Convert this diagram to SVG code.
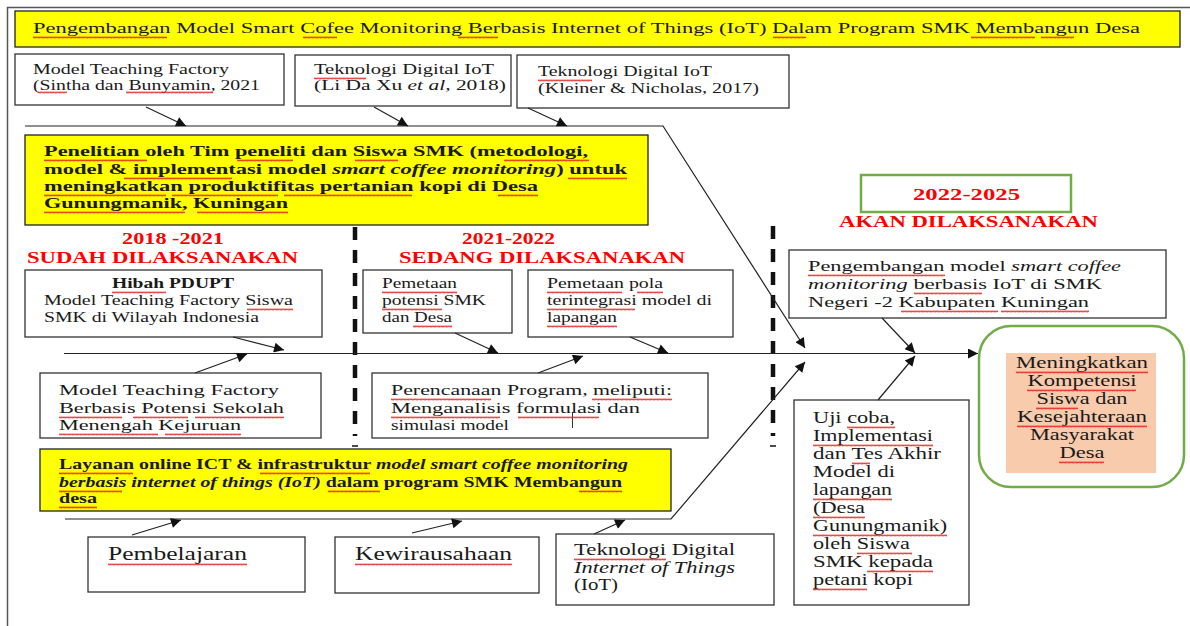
<svg xmlns="http://www.w3.org/2000/svg" width="1190" height="626" viewBox="0 0 1190 626">
  <defs>
    <style>
      .bx{fill:#fff;stroke:#333;stroke-width:1.3}
      .yb{fill:#ff0;stroke:#222;stroke-width:1.3}
      .gb{fill:#fff;stroke:#70ad47;stroke-width:2.5}
      .t{font-family:"Liberation Serif","Times New Roman",serif;fill:#1a1a1a}
      .b{font-weight:bold}
      .i{font-style:italic}
      .r{font-family:"Liberation Serif","Times New Roman",serif;fill:#f00;font-weight:bold;font-size:17px}
      .ln{stroke:#222;stroke-width:1.3;fill:none}
      .ar{stroke:#222;stroke-width:1.2;fill:none;marker-end:url(#ah)}
      .dash{stroke:#111;stroke-width:4.5;stroke-dasharray:13 10;fill:none}
      .sq{fill:url(#wavy)}
    </style>
    <marker id="ah" viewBox="0 0 10 10" refX="10" refY="5" markerWidth="14" markerHeight="10" markerUnits="userSpaceOnUse" orient="auto">
      <path d="M0,0 L10,5 L0,10z" fill="#111"/>
    </marker>
    <!-- red wavy underline tile -->
    <pattern id="wavy" width="4" height="3" patternUnits="userSpaceOnUse">
      <path d="M0,2.4 L1,0.6 L2,2.4 L3,0.6 L4,2.4" fill="none" stroke="#e31b1b" stroke-width="0.8"/>
    </pattern>
  </defs>

  <rect width="1190" height="626" fill="#fff"/>
  <!-- outer frame -->
  <path d="M7.5,626 V7.5 H1190" fill="none" stroke="#555" stroke-width="1.5"/>

  <!-- title banner -->
  <g id="title">
    <rect class="yb" x="15" y="11" width="1165" height="36"/>
    <text class="t" x="33" y="33" font-size="15" textLength="1107" lengthAdjust="spacingAndGlyphs">Pengembangan  Model Smart  Cofee Monitoring  Berbasis  Internet of Things  (IoT)  Dalam  Program  SMK  Membangun  Desa</text>
  </g>

  <!-- reference boxes -->
  <g id="ref-tefa">
    <rect class="bx" x="15" y="54" width="269" height="51"/>
    <text class="t" x="33" y="74" font-size="14" textLength="196" lengthAdjust="spacingAndGlyphs">Model Teaching  Factory</text>
    <text class="t" x="33" y="90" font-size="14" textLength="227" lengthAdjust="spacingAndGlyphs">(Sintha dan Bunyamin,  2021</text>
  </g>
  <g id="ref-lidaxu">
    <rect class="bx" x="295" y="55" width="216" height="51"/>
    <text class="t" x="314" y="74" font-size="14" textLength="180" lengthAdjust="spacingAndGlyphs">Teknologi  Digital IoT</text>
    <text class="t" x="314" y="90" font-size="14" textLength="192" lengthAdjust="spacingAndGlyphs">(Li Da Xu <tspan class="i">et al</tspan>, 2018)</text>
  </g>
  <g id="ref-kleiner">
    <rect class="bx" x="517" y="55" width="272" height="53"/>
    <text class="t" x="538" y="76" font-size="14" textLength="174" lengthAdjust="spacingAndGlyphs">Teknologi Digital IoT</text>
    <text class="t" x="538" y="93" font-size="14" textLength="221" lengthAdjust="spacingAndGlyphs">(Kleiner &amp; Nicholas,  2017)</text>
  </g>

  <!-- research banner -->
  <g id="research">
    <rect class="yb" x="25" y="135" width="623" height="90"/>
    <text class="t b" x="44" y="156" font-size="15" textLength="544" lengthAdjust="spacingAndGlyphs">Penelitian  oleh Tim peneliti  dan Siswa SMK (metodologi,</text>
    <text class="t b" x="44" y="174" font-size="15" textLength="583" lengthAdjust="spacingAndGlyphs">model &amp; implementasi  model <tspan class="i">smart coffee  monitoring</tspan>)  untuk</text>
    <text class="t b" x="44" y="191" font-size="15" textLength="494" lengthAdjust="spacingAndGlyphs">meningkatkan produktifitas pertanian  kopi di Desa</text>
    <text class="t b" x="44" y="208" font-size="15" textLength="244" lengthAdjust="spacingAndGlyphs">Gunungmanik, Kuningan</text>
  </g>

  <!-- phase labels -->
  <g id="phase-1">
    <text class="r" x="122" y="244" textLength="102" lengthAdjust="spacingAndGlyphs">2018 -2021</text>
    <text class="r" x="27" y="263" textLength="271" lengthAdjust="spacingAndGlyphs">SUDAH DILAKSANAKAN</text>
  </g>
  <g id="phase-2">
    <text class="r" x="462" y="244" textLength="93" lengthAdjust="spacingAndGlyphs">2021-2022</text>
    <text class="r" x="399" y="263" textLength="286" lengthAdjust="spacingAndGlyphs">SEDANG DILAKSANAKAN</text>
  </g>
  <g id="phase-3">
    <rect class="gb" x="861" y="175" width="210" height="37"/>
    <text class="r" x="913" y="200" textLength="107" lengthAdjust="spacingAndGlyphs">2022-2025</text>
    <text class="r" x="839" y="227" textLength="259" lengthAdjust="spacingAndGlyphs">AKAN DILAKSANAKAN</text>
  </g>

  <!-- upper cause boxes -->
  <g id="hibah">
    <rect class="bx" x="25" y="270" width="297" height="67"/>
    <text class="t b" x="112" y="288" font-size="15" textLength="122" lengthAdjust="spacingAndGlyphs">Hibah PDUPT</text>
    <text class="t" x="44" y="305" font-size="15" textLength="249" lengthAdjust="spacingAndGlyphs">Model Teaching  Factory Siswa</text>
    <text class="t" x="44" y="322" font-size="15" textLength="215" lengthAdjust="spacingAndGlyphs">SMK di Wilayah Indonesia</text>
  </g>
  <g id="pemetaan-potensi">
    <rect class="bx" x="363" y="270" width="149" height="63"/>
    <text class="t" x="382" y="288" font-size="14" textLength="75" lengthAdjust="spacingAndGlyphs">Pemetaan</text>
    <text class="t" x="382" y="305" font-size="14" textLength="104" lengthAdjust="spacingAndGlyphs">potensi SMK</text>
    <text class="t" x="382" y="322" font-size="14" textLength="70" lengthAdjust="spacingAndGlyphs">dan Desa</text>
  </g>
  <g id="pemetaan-pola">
    <rect class="bx" x="528" y="270" width="205" height="67"/>
    <text class="t" x="547" y="288" font-size="14" textLength="116" lengthAdjust="spacingAndGlyphs">Pemetaan  pola</text>
    <text class="t" x="547" y="305" font-size="14" textLength="165" lengthAdjust="spacingAndGlyphs">terintegrasi  model di</text>
    <text class="t" x="547" y="322" font-size="14" textLength="70" lengthAdjust="spacingAndGlyphs">lapangan</text>
  </g>
  <g id="pengembangan">
    <rect class="bx" x="789" y="250" width="377" height="68"/>
    <text class="t" x="808" y="271" font-size="15" textLength="313" lengthAdjust="spacingAndGlyphs">Pengembangan model <tspan class="i">smart coffee</tspan></text>
    <text class="t" x="808" y="289" font-size="15" textLength="294" lengthAdjust="spacingAndGlyphs"><tspan class="i">monitoring</tspan> berbasis  IoT di SMK</text>
    <text class="t" x="808" y="307" font-size="15" textLength="281" lengthAdjust="spacingAndGlyphs">Negeri -2 Kabupaten Kuningan</text>
  </g>

  <!-- lower cause boxes -->
  <g id="tefa-potensi">
    <rect class="bx" x="40" y="373" width="281" height="65"/>
    <text class="t" x="59" y="395" font-size="15" textLength="220" lengthAdjust="spacingAndGlyphs">Model Teaching  Factory</text>
    <text class="t" x="59" y="413" font-size="15" textLength="225" lengthAdjust="spacingAndGlyphs">Berbasis Potensi Sekolah</text>
    <text class="t" x="59" y="430" font-size="15" textLength="182" lengthAdjust="spacingAndGlyphs">Menengah Kejuruan</text>
  </g>
  <g id="perencanaan">
    <rect class="bx" x="372" y="373" width="336" height="65"/>
    <text class="t" x="391" y="395" font-size="14.5" textLength="281" lengthAdjust="spacingAndGlyphs">Perencanaan Program, meliputi:</text>
    <text class="t" x="391" y="413" font-size="14.5" textLength="249" lengthAdjust="spacingAndGlyphs">Menganalisis  formulasi dan</text>
    <text class="t" x="391" y="430" font-size="14.5" textLength="118" lengthAdjust="spacingAndGlyphs">simulasi  model</text>
    <line x1="572.5" y1="412" x2="572.5" y2="428" stroke="#333" stroke-width="1"/>
  </g>
  <g id="layanan">
    <rect class="yb" x="40" y="449" width="631" height="62"/>
    <text class="t b" x="59" y="469" font-size="14" textLength="569" lengthAdjust="spacingAndGlyphs">Layanan online ICT  &amp; infrastruktur  <tspan class="i">model smart  coffee monitoring</tspan></text>
    <text class="t b" x="59" y="487" font-size="14" textLength="563" lengthAdjust="spacingAndGlyphs"><tspan class="i">berbasis  internet of things  (IoT)</tspan> dalam  program  SMK Membangun</text>
    <text class="t b" x="59" y="503" font-size="14" textLength="38" lengthAdjust="spacingAndGlyphs">desa</text>
  </g>
  <g id="pembelajaran">
    <rect class="bx" x="88" y="537" width="217" height="55"/>
    <text class="t" x="108" y="560" font-size="18" textLength="139" lengthAdjust="spacingAndGlyphs">Pembelajaran</text>
  </g>
  <g id="kewirausahaan">
    <rect class="bx" x="335" y="537" width="204" height="56"/>
    <text class="t" x="355" y="560" font-size="18" textLength="157" lengthAdjust="spacingAndGlyphs">Kewirausahaan</text>
  </g>
  <g id="teknologi-iot">
    <rect class="bx" x="556" y="534" width="218" height="71"/>
    <text class="t" x="574" y="555" font-size="16" textLength="161" lengthAdjust="spacingAndGlyphs">Teknologi Digital</text>
    <text class="t i" x="574" y="573" font-size="16" textLength="161" lengthAdjust="spacingAndGlyphs">Internet of Things</text>
    <text class="t" x="574" y="590" font-size="16" textLength="44" lengthAdjust="spacingAndGlyphs">(IoT)</text>
  </g>
  <g id="uji-coba">
    <rect class="bx" x="794" y="400" width="175" height="205"/>
    <g class="t" font-size="16">
      <text x="813" y="423" textLength="82" lengthAdjust="spacingAndGlyphs">Uji coba,</text>
      <text x="813" y="441" textLength="120" lengthAdjust="spacingAndGlyphs">Implementasi</text>
      <text x="813" y="459" textLength="128" lengthAdjust="spacingAndGlyphs">dan Tes Akhir</text>
      <text x="813" y="477" textLength="82" lengthAdjust="spacingAndGlyphs">Model di</text>
      <text x="813" y="495" textLength="79" lengthAdjust="spacingAndGlyphs">lapangan</text>
      <text x="813" y="513" textLength="52" lengthAdjust="spacingAndGlyphs">(Desa</text>
      <text x="813" y="531" textLength="134" lengthAdjust="spacingAndGlyphs">Gunungmanik)</text>
      <text x="813" y="549" textLength="97" lengthAdjust="spacingAndGlyphs">oleh Siswa</text>
      <text x="813" y="567" textLength="120" lengthAdjust="spacingAndGlyphs">SMK kepada</text>
      <text x="813" y="585" textLength="100" lengthAdjust="spacingAndGlyphs">petani kopi</text>
    </g>
  </g>

  <!-- outcome -->
  <g id="outcome">
    <rect class="gb" x="979" y="326" width="205" height="161" rx="32"/>
    <rect x="1006" y="353" width="150" height="120" fill="#f8cbad"/>
    <g class="t" font-size="16" text-anchor="middle">
      <text x="1082" y="368" textLength="132" lengthAdjust="spacingAndGlyphs">Meningkatkan</text>
      <text x="1082" y="386" textLength="109" lengthAdjust="spacingAndGlyphs">Kompetensi</text>
      <text x="1082" y="404" textLength="91" lengthAdjust="spacingAndGlyphs">Siswa dan</text>
      <text x="1082" y="422" textLength="130" lengthAdjust="spacingAndGlyphs">Kesejahteraan</text>
      <text x="1082" y="440" textLength="104" lengthAdjust="spacingAndGlyphs">Masyarakat</text>
      <text x="1082" y="458" textLength="45" lengthAdjust="spacingAndGlyphs">Desa</text>
    </g>
  </g>

  <!-- phase dividers -->
  <g id="dividers">
    <line class="dash" x1="355" y1="227" x2="355" y2="436"/>
    <line x1="352" y1="446" x2="358" y2="446" stroke="#111" stroke-width="1.5"/>
    <line class="dash" x1="773" y1="226" x2="773" y2="436"/>
    <line x1="770" y1="446" x2="776" y2="446" stroke="#111" stroke-width="1.5"/>
  </g>

  <!-- bones and arrows -->
  <g id="connectors">
    <polyline class="ar" points="25,126 663,126 805,348"/>
    <line class="ar" x1="64" y1="353.5" x2="978" y2="353.5"/>
    <polyline class="ar" points="65,519 671,519 805,362"/>
    <line class="ar" x1="146" y1="107" x2="186" y2="126"/>
    <line class="ar" x1="374" y1="107" x2="408" y2="126"/>
    <line class="ar" x1="528" y1="108" x2="567" y2="126"/>
    <line class="ar" x1="233" y1="337" x2="284" y2="350"/>
    <line class="ar" x1="195" y1="373" x2="247" y2="354"/>
    <line class="ar" x1="455" y1="333" x2="498" y2="353"/>
    <line class="ar" x1="630" y1="337" x2="668" y2="353"/>
    <line class="ar" x1="538" y1="373" x2="583" y2="356"/>
    <line class="ar" x1="882" y1="318" x2="915" y2="353"/>
    <line class="ar" x1="878" y1="400" x2="915" y2="356"/>
    <line class="ar" x1="132" y1="535" x2="181" y2="520"/>
    <line class="ar" x1="412" y1="533" x2="462" y2="521"/>
    <line class="ar" x1="594" y1="534" x2="625" y2="520"/>
  </g>

  <!-- proofing underlines -->
  <g id="underlines">
    <rect class="sq" transform="translate(33,36)" width="134" height="3"/>
    <rect class="sq" transform="translate(303,36)" width="34" height="3"/>
    <rect class="sq" transform="translate(458,36)" width="40" height="3"/>
    <rect class="sq" transform="translate(773,36)" width="33" height="3"/>
    <rect class="sq" transform="translate(971,36)" width="64" height="3"/>
    <rect class="sq" transform="translate(1041,36)" width="33" height="3"/>
    <rect class="sq" transform="translate(38,91)" width="29" height="3"/>
    <rect class="sq" transform="translate(126,91)" width="87" height="3"/>
    <rect class="sq" transform="translate(314,77)" width="52" height="3"/>
    <rect class="sq" transform="translate(538,79)" width="54" height="3"/>
    <rect class="sq" transform="translate(44,159)" width="103" height="3"/>
    <rect class="sq" transform="translate(237,159)" width="56" height="3"/>
    <rect class="sq" transform="translate(355,159)" width="43" height="3"/>
    <rect class="sq" transform="translate(504,159)" width="85" height="3"/>
    <rect class="sq" transform="translate(124,177)" width="108" height="3"/>
    <rect class="sq" transform="translate(568,177)" width="59" height="3"/>
    <rect class="sq" transform="translate(44,194)" width="122" height="3"/>
    <rect class="sq" transform="translate(172,194)" width="106" height="3"/>
    <rect class="sq" transform="translate(284,194)" width="128" height="3"/>
    <rect class="sq" transform="translate(498,194)" width="40" height="3"/>
    <rect class="sq" transform="translate(44,211)" width="141" height="3"/>
    <rect class="sq" transform="translate(197,211)" width="91" height="3"/>
    <rect class="sq" transform="translate(112,291)" width="54" height="3"/>
    <rect class="sq" transform="translate(247,308)" width="46" height="3"/>
    <rect class="sq" transform="translate(382,291)" width="75" height="3"/>
    <rect class="sq" transform="translate(382,308)" width="60" height="3"/>
    <rect class="sq" transform="translate(413,325)" width="39" height="3"/>
    <rect class="sq" transform="translate(547,291)" width="75" height="3"/>
    <rect class="sq" transform="translate(637,291)" width="26" height="3"/>
    <rect class="sq" transform="translate(547,308)" width="88" height="3"/>
    <rect class="sq" transform="translate(547,325)" width="70" height="3"/>
    <rect class="sq" transform="translate(808,274)" width="137" height="3"/>
    <rect class="sq" transform="translate(914,292)" width="68" height="3"/>
    <rect class="sq" transform="translate(901,310)" width="97" height="3"/>
    <rect class="sq" transform="translate(1001,310)" width="88" height="3"/>
    <rect class="sq" transform="translate(59,416)" width="63" height="3"/>
    <rect class="sq" transform="translate(133,416)" width="55" height="3"/>
    <rect class="sq" transform="translate(195,416)" width="89" height="3"/>
    <rect class="sq" transform="translate(59,433)" width="99" height="3"/>
    <rect class="sq" transform="translate(165,433)" width="76" height="3"/>
    <rect class="sq" transform="translate(391,398)" width="100" height="3"/>
    <rect class="sq" transform="translate(592,398)" width="80" height="3"/>
    <rect class="sq" transform="translate(391,416)" width="109" height="3"/>
    <rect class="sq" transform="translate(518,416)" width="81" height="3"/>
    <rect class="sq" transform="translate(59,472)" width="74" height="3"/>
    <rect class="sq" transform="translate(260,472)" width="110" height="3"/>
    <rect class="sq" transform="translate(59,490)" width="63" height="3"/>
    <rect class="sq" transform="translate(328,490)" width="52" height="3"/>
    <rect class="sq" transform="translate(579,490)" width="43" height="3"/>
    <rect class="sq" transform="translate(59,506)" width="38" height="3"/>
    <rect class="sq" transform="translate(108,563)" width="139" height="3"/>
    <rect class="sq" transform="translate(355,563)" width="157" height="3"/>
    <rect class="sq" transform="translate(574,558)" width="92" height="3"/>
    <rect class="sq" transform="translate(847,426)" width="48" height="3"/>
    <rect class="sq" transform="translate(813,444)" width="120" height="3"/>
    <rect class="sq" transform="translate(852,462)" width="18" height="3"/>
    <rect class="sq" transform="translate(813,498)" width="79" height="3"/>
    <rect class="sq" transform="translate(813,516)" width="52" height="3"/>
    <rect class="sq" transform="translate(813,534)" width="134" height="3"/>
    <rect class="sq" transform="translate(857,552)" width="55" height="3"/>
    <rect class="sq" transform="translate(867,570)" width="66" height="3"/>
    <rect class="sq" transform="translate(813,588)" width="54" height="3"/>
    <rect class="sq" transform="translate(1016,371)" width="132" height="3"/>
    <rect class="sq" transform="translate(1027,389)" width="109" height="3"/>
    <rect class="sq" transform="translate(1036,407)" width="42" height="3"/>
    <rect class="sq" transform="translate(1017,425)" width="130" height="3"/>
    <rect class="sq" transform="translate(1059,461)" width="45" height="3"/>
  </g>
</svg>
